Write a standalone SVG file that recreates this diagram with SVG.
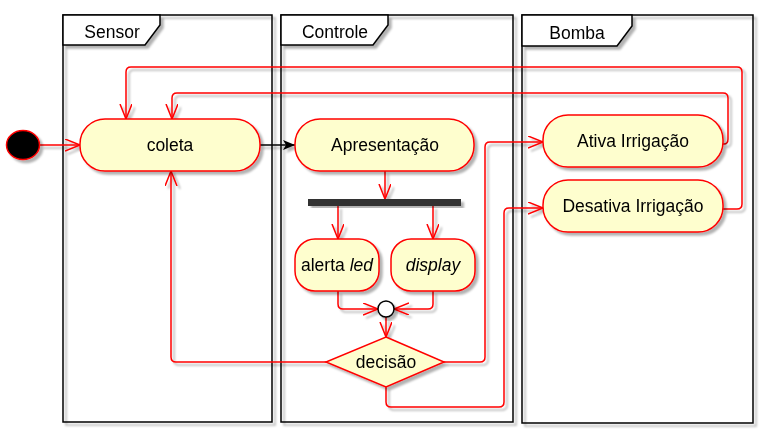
<svg xmlns="http://www.w3.org/2000/svg" width="775" height="436" viewBox="0 0 775 436">
<defs>
<style>
text{font-family:"Liberation Sans",Arial,sans-serif;font-size:17.5px;fill:#000;text-anchor:middle}
.lane{fill:none;stroke:#000;stroke-width:1.5}
.tab{fill:#fff;stroke:#000;stroke-width:1.5}
.node{fill:#FEFECE;stroke:#FF0000;stroke-width:1.5}
.c{fill:none;stroke:#FF0000;stroke-width:1.5}
.sh{filter:url(#ds)}
</style>
<filter id="ds" x="-10%" y="-10%" width="130%" height="130%">
<feDropShadow dx="3" dy="3" stdDeviation="1.2" flood-color="#000" flood-opacity="0.3"/>
</filter>
<marker id="ah" markerUnits="userSpaceOnUse" markerWidth="18" markerHeight="14" refX="15" refY="6" orient="auto">
<path d="M0,0 L15,6 L0,12" fill="none" stroke="#FF0000" stroke-width="1.5"/>
</marker>
<marker id="bh" markerUnits="userSpaceOnUse" markerWidth="14" markerHeight="12" refX="12" refY="5" orient="auto">
<path d="M0,0 L12,5 L0,10 L3,5 Z" fill="#000"/>
</marker>
</defs>
<rect width="775" height="436" fill="#fff"/>
<g id="lane-sensor" class="sh">
<rect class="lane" x="63" y="15" width="209" height="407"/>
<path class="tab" d="M63,15 H160 V25 L145,45 H63 Z"/>
<text x="112" y="38">Sensor</text>
</g>
<g id="lane-controle" class="sh">
<rect class="lane" x="281" y="15" width="232" height="407"/>
<path class="tab" d="M281,15 H388 V25 L373,45 H281 Z"/>
<text x="335" y="38">Controle</text>
</g>
<g id="lane-bomba" class="sh">
<rect class="lane" x="522" y="15" width="231" height="408"/>
<path class="tab" d="M522,15 H632 V26 L617,46 H522 Z"/>
<text x="577" y="39">Bomba</text>
</g>
<g id="connectors" class="sh">
<path class="c" d="M40,145 H80" marker-end="url(#ah)"/>
<path d="M260,145 H295" fill="none" stroke="#000" stroke-width="1.5" marker-end="url(#bh)"/>
<path class="c" d="M385,171 V199" marker-end="url(#ah)"/>
<path class="c" d="M338,206 V239" marker-end="url(#ah)"/>
<path class="c" d="M433,206 V239" marker-end="url(#ah)"/>
<path class="c" d="M338,291 V304 Q338,309 343,309 H378" marker-end="url(#ah)"/>
<path class="c" d="M433,291 V304 Q433,309 428,309 H394" marker-end="url(#ah)"/>
<path class="c" d="M386,317 V337" marker-end="url(#ah)"/>
<path class="c" d="M326,362 H176 Q171,362 171,357 V171" marker-end="url(#ah)"/>
<path class="c" d="M444,362 H480 Q485,362 485,357 V147 Q485,142 490,142 H543" marker-end="url(#ah)"/>
<path class="c" d="M386,387 V402 Q386,407 391,407 H499 Q504,407 504,402 V213 Q504,208 509,208 H543" marker-end="url(#ah)"/>
<path class="c" d="M723,144 H724 Q728,144 728,139 V98 Q728,93 723,93 H177 Q172,93 172,98 V119" marker-end="url(#ah)"/>
<path class="c" d="M723,209 H737 Q742,209 742,204 V72 Q742,67 737,67 H131 Q126,67 126,72 V119" marker-end="url(#ah)"/>
</g>
<g id="start" class="sh">
<ellipse cx="23" cy="145" rx="16.5" ry="14.5" fill="#000" stroke="#FF0000" stroke-width="1.5"/>
</g>
<g id="coleta" class="sh">
<rect class="node" x="80" y="119" width="180" height="52" rx="25"/>
<text x="170" y="151">coleta</text>
</g>
<g id="apresentacao" class="sh">
<rect class="node" x="295" y="119" width="179" height="52" rx="25"/>
<text x="385" y="151">Apresentação</text>
</g>
<g id="fork" class="sh">
<rect x="308" y="199" width="153" height="7" fill="#333"/>
</g>
<g id="alerta-led" class="sh">
<rect class="node" x="295" y="239" width="84" height="52" rx="20"/>
<text x="337" y="271">alerta <tspan font-style="italic">led</tspan></text>
</g>
<g id="display" class="sh">
<rect class="node" x="391" y="239" width="84" height="52" rx="20"/>
<text x="433" y="271" font-style="italic">display</text>
</g>
<g id="merge" class="sh">
<circle cx="386" cy="309" r="8" fill="#fff" stroke="#000" stroke-width="1.5"/>
</g>
<g id="decisao" class="sh">
<path class="node" d="M386,337 L444,362 L386,387 L326,362 Z"/>
<text x="386" y="368">decisão</text>
</g>
<g id="ativa" class="sh">
<rect class="node" x="543" y="115" width="180" height="52" rx="25"/>
<text x="633" y="147">Ativa Irrigação</text>
</g>
<g id="desativa" class="sh">
<rect class="node" x="543" y="180" width="180" height="52" rx="25"/>
<text x="633" y="212">Desativa Irrigação</text>
</g>
</svg>
